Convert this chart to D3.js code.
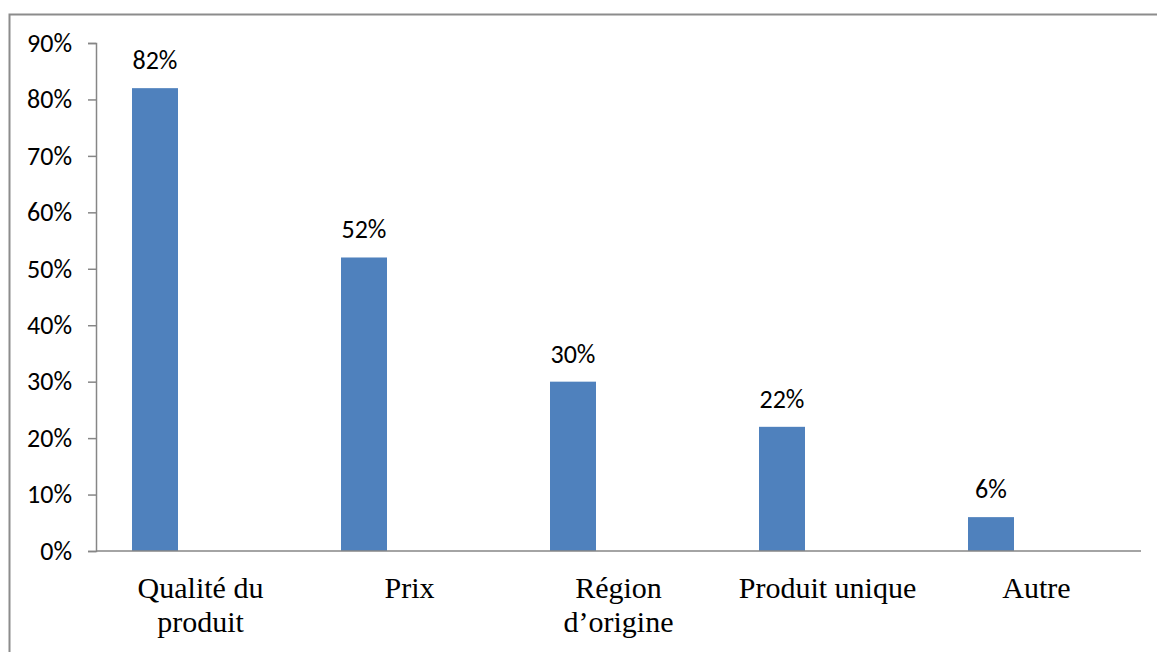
<!DOCTYPE html>
<html>
<head>
<meta charset="utf-8">
<script src="https://cdn.jsdelivr.net/npm/d3@7"></script>
<style>
  body { margin: 0; background: #fff; }
</style>
</head>
<body>
<div id="chart"></div>
<script>
// data
const categories = [['Qualité du', 'produit'], ['Prix'], ['Région', 'd’origine'], ['Produit unique'], ['Autre']];
const values = [0.82, 0.52, 0.30, 0.22, 0.06];
const yTicks = [0, 0.1, 0.2, 0.3, 0.4, 0.5, 0.6, 0.7, 0.8, 0.9];

const width = 1157, height = 652;
const svg = d3.select('#chart').append('svg').attr('width', width).attr('height', height);

// outer frame (clipped at right/bottom like the reference)
svg.append('path')
  .attr('d', 'M9.5,652 V14.5 H1157')
  .attr('fill', 'none').attr('stroke', '#8c8c8c').attr('stroke-width', 2);

const plotLeft = 96, plotRight = 1141, plotTop = 43, plotBottom = 551;
const sansFont = 'Carlito, Lato, "Open Sans", sans-serif';

const x = d3.scaleBand().domain(d3.range(categories.length)).range([plotLeft, plotRight]);
const y = d3.scaleLinear().domain([0, 0.9]).range([plotBottom, plotTop]);

// bars sit at the left part of each band
const barOffset = 36, barW = 46;

svg.selectAll('rect.bar')
  .data(values)
  .enter()
  .append('rect')
  .attr('class', 'bar')
  .attr('x', (d, i) => x(i) + barOffset)
  .attr('y', (d) => y(d))
  .attr('width', barW)
  .attr('height', (d) => y(0) - y(d))
  .attr('fill', '#4f81bd');

// value labels
svg.selectAll('text.val')
  .data(values)
  .enter()
  .append('text')
  .attr('class', 'val')
  .attr('x', (d, i) => x(i) + barOffset + barW / 2)
  .attr('y', (d) => y(d) - 19)
  .attr('text-anchor', 'middle')
  .attr('font-family', sansFont)
  .attr('font-size', 26)
  .attr('fill', '#000')
  .text((d) => d3.format('.0%')(d));

// y axis
const yAxis = d3.axisLeft(y).tickValues(yTicks).tickFormat(d3.format('.0%')).tickSize(8).tickPadding(16);
const gy = svg.append('g').attr('transform', `translate(${plotLeft},0)`).call(yAxis);
gy.attr('font-family', sansFont).attr('font-size', 26);
gy.select('.domain').attr('stroke', '#868686').attr('stroke-width', 1.5);
gy.selectAll('.tick line').attr('stroke', '#868686').attr('stroke-width', 1.5);
gy.selectAll('.tick text').attr('fill', '#000');

// x axis line
svg.append('line')
  .attr('x1', plotLeft).attr('x2', plotRight)
  .attr('y1', plotBottom).attr('y2', plotBottom)
  .attr('stroke', '#868686').attr('stroke-width', 1.5);

// category labels
const cat = svg.selectAll('text.cat')
  .data(categories)
  .enter()
  .append('text')
  .attr('class', 'cat')
  .attr('text-anchor', 'middle')
  .attr('font-family', '"Liberation Serif", "Times New Roman", serif')
  .attr('font-size', 30)
  .attr('fill', '#000');

cat.selectAll('tspan')
  .data((d, i) => d.map((line) => ({ line, i })))
  .enter()
  .append('tspan')
  .attr('x', (d) => x(d.i) + x.bandwidth() / 2)
  .attr('y', (d, j) => 598 + j * 34)
  .text((d) => d.line);
</script>
</body>
</html>
